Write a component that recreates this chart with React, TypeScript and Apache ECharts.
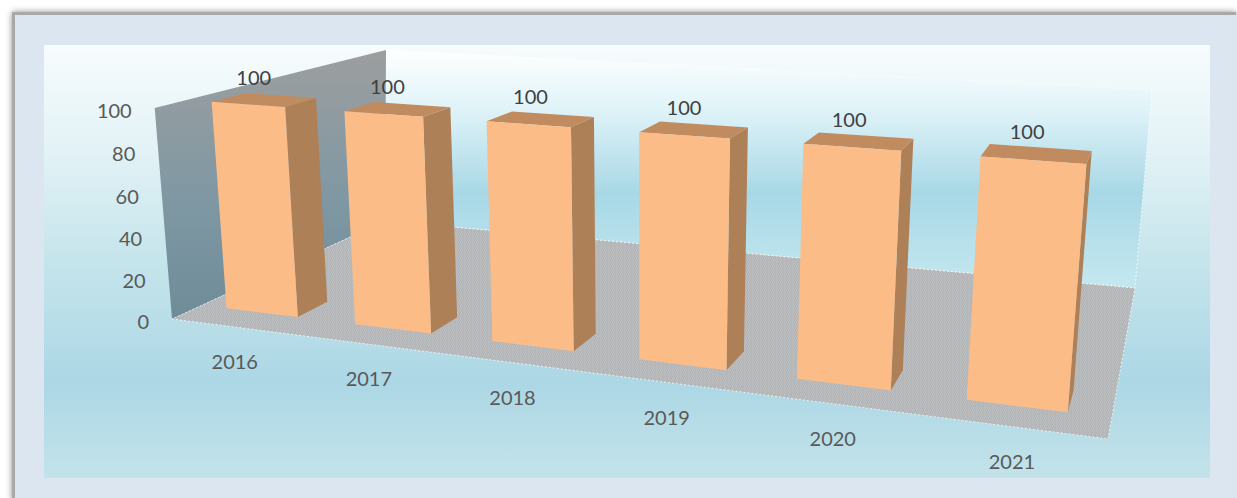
import React, { useEffect, useRef } from "react";
import * as echarts from "echarts";

const categories = ["2016", "2017", "2018", "2019", "2020", "2021"];
const values = [100, 100, 100, 100, 100, 100];
const valueTicks = [0, 20, 40, 60, 80, 100];

type Pt = [number, number];

// Floor outline, ordered front-left, front-right, back-right, back-left.
const FLOOR_OUTLINE: Pt[] = [[172, 319], [1108, 439], [1135, 288], [385, 221]];
// Reference quad of the camera that places the columns on that floor.
const CAMERA_QUAD: Pt[] = [[172, 319], [1108, 439], [1135, 294], [385, 221]];
// Where the vertical edges converge, and the height of the front-left corner on screen.
const VERTICAL_VANISH: Pt = [643, 6063];
const FRONT_LEFT_TOP_Y = 108;
// Upper corners of the back wall.
const WALL_TOP_LEFT: Pt = [386, 50];
const WALL_TOP_RIGHT: Pt = [1152, 90];

// Column extent inside its category band, and its span into the depth.
const BAR_LEFT = 0.3;
const BAR_RIGHT = 0.262;
const BAR_NEAR = 0.115;
const BAR_FAR = 0.245;
const FONT = '20px Lato, "Open Sans", sans-serif';

// Pinhole camera built from the floor homography plus a vertical column.
function makeCamera(q: Pt[]) {
  const [[x0, y0], [x1, y1], [x2, y2], [x3, y3]] = q;
  const dx1 = x1 - x2, dx2 = x3 - x2, sx = x0 - x1 + x2 - x3;
  const dy1 = y1 - y2, dy2 = y3 - y2, sy = y0 - y1 + y2 - y3;
  const den = dx1 * dy2 - dx2 * dy1;
  const g = (sx * dy2 - dx2 * sy) / den;
  const h = (dx1 * sy - sx * dy1) / den;
  const a = x1 - x0 + g * x1, b = x3 - x0 + h * x3;
  const d = y1 - y0 + g * y1, e = y3 - y0 + h * y3;
  const [vx, vy] = VERTICAL_VANISH;
  const m = (y0 - FRONT_LEFT_TOP_Y) / (FRONT_LEFT_TOP_Y - vy);
  // u runs along the categories, v into the depth, t up the value axis.
  return (u: number, v: number, t: number): Pt => {
    const w = g * u + h * v + 1 + m * t;
    return [(a * u + b * v + x0 + m * vx * t) / w, (d * u + e * v + y0 + m * vy * t) / w];
  };
}

const project = makeCamera(CAMERA_QUAD);

function floorTexture(): string {
  const c = document.createElement("canvas");
  c.width = 4;
  c.height = 4;
  const g = c.getContext("2d")!;
  g.fillStyle = "#b9b9ba";
  g.fillRect(0, 0, 4, 4);
  g.fillStyle = "#aeb3b8";
  g.fillRect(0, 0, 1, 1);
  g.fillRect(2, 0, 1, 1);
  g.fillRect(1, 2, 1, 1);
  g.fillRect(3, 2, 1, 1);
  g.fillStyle = "#c4c3c1";
  g.fillRect(1, 0, 1, 1);
  g.fillRect(0, 2, 1, 1);
  return c.toDataURL();
}

function App() {
  const ref = useRef<HTMLDivElement>(null);

  useEffect(() => {
    document.body.style.margin = "0";
    document.body.style.overflow = "hidden";
    const chart = echarts.init(ref.current!, null, { renderer: "svg" });
    const texture = floorTexture();

    const toUnit = (params: any, api: any, cat: number, val: number) => {
      const g = params.coordSys;
      const c = api.coord([cat, val]);
      return { u: (c[0] - g.x) / g.width, t: (g.y + g.height - c[1]) / g.height, band: api.size([1, 0])[0] / g.width };
    };

    const scene = () => {
      const edge = { stroke: "rgba(255,255,255,0.7)", lineWidth: 1, lineDash: [2, 2] };
      const [frontLeft, , backRight, backLeft] = FLOOR_OUTLINE;
      return {
        type: "group",
        children: [
          {
            type: "polygon",
            shape: { points: [backLeft, backRight, WALL_TOP_RIGHT, WALL_TOP_LEFT] },
            style: {
              ...edge,
              fill: new echarts.graphic.LinearGradient(0, 0, 0, 1, [
                { offset: 0, color: "rgba(255,255,255,0.95)" },
                { offset: 0.25, color: "#dff3f8" },
                { offset: 0.6, color: "#a8d8e6" },
                { offset: 1, color: "#c4e8f0" },
              ]),
            },
          },
          {
            type: "polygon",
            shape: { points: [frontLeft, backLeft, WALL_TOP_LEFT, project(0, 0, 1)] },
            style: {
              fill: new echarts.graphic.LinearGradient(0, 0, 0, 1, [
                { offset: 0, color: "#9d9e9f" },
                { offset: 0.55, color: "#7f98a4" },
                { offset: 1, color: "#6e8c98" },
              ]),
            },
          },
          {
            type: "polygon",
            shape: { points: FLOOR_OUTLINE },
            style: { ...edge, fill: { image: texture, repeat: "repeat" } },
          },
        ],
      };
    };

    const bar = (params: any, api: any) => {
      const { u, t, band } = toUnit(params, api, api.value(0), api.value(1));
      const a = u - band * BAR_LEFT;
      const b = u + band * BAR_RIGHT;
      const n = BAR_NEAR;
      const f = BAR_FAR;
      const top = project(u, (n + f) / 2, t);
      return {
        type: "group",
        children: [
          {
            type: "polygon",
            shape: { points: [project(b, n, 0), project(b, f, 0), project(b, f, t), project(b, n, t)] },
            style: { fill: "#ae8058" },
          },
          {
            type: "polygon",
            shape: { points: [project(a, n, t), project(b, n, t), project(b, f, t), project(a, f, t)] },
            style: { fill: "#c18b60" },
          },
          {
            type: "polygon",
            shape: { points: [project(a, n, 0), project(b, n, 0), project(b, n, t), project(a, n, t)] },
            style: { fill: "#fbbc87" },
          },
          {
            type: "text",
            style: {
              text: String(api.value(1)),
              x: top[0] - 13,
              y: top[1] - 23,
              align: "center",
              verticalAlign: "middle",
              font: FONT,
              fill: "#404040",
            },
          },
        ],
      };
    };

    const yearLabel = (params: any, api: any) => {
      const { u } = toUnit(params, api, api.value(0), 0);
      const p = project(u, 0, 0);
      return {
        type: "text",
        style: {
          text: categories[api.value(0)],
          x: p[0] - 1,
          y: p[1] + 34,
          align: "center",
          verticalAlign: "middle",
          font: FONT,
          fill: "#595959",
        },
      };
    };

    const tickLabel = (params: any, api: any) => {
      const { t } = toUnit(params, api, 0, api.value(1));
      const p = project(0, 0, t);
      return {
        type: "text",
        style: {
          text: String(api.value(1)),
          x: p[0] - 23,
          y: p[1] + 2,
          align: "right",
          verticalAlign: "middle",
          font: FONT,
          fill: "#595959",
        },
      };
    };

    chart.setOption({
      animation: false,
      tooltip: { show: false },
      grid: { left: 100, top: 100, width: 600, height: 300 },
      xAxis: { type: "category", data: categories, show: false },
      yAxis: { type: "value", min: 0, max: 100, interval: 20, show: false },
      graphic: [
        { type: "rect", z: -3, shape: { x: 12, y: 12, width: 1224, height: 490 }, style: { fill: "#a9a9a9", shadowBlur: 6, shadowColor: "rgba(0,0,0,0.45)" } },
        { type: "rect", z: -2, shape: { x: 15, y: 15, width: 1222, height: 490 }, style: { fill: "#dce6f1" } },
        {
          type: "rect",
          z: -1,
          shape: { x: 44, y: 45, width: 1166, height: 433 },
          style: {
            fill: new echarts.graphic.LinearGradient(0, 0, 0, 1, [
              { offset: 0, color: "#f7fcfd" },
              { offset: 0.25, color: "#e2f2f6" },
              { offset: 0.47, color: "#c8e6ec" },
              { offset: 0.78, color: "#acd7e5" },
              { offset: 1, color: "#c3e3ea" },
            ]),
          },
        },
      ],
      series: [
        { type: "custom", z: 1, silent: true, data: [[0, 0]], renderItem: scene },
        { type: "custom", z: 2, silent: true, data: values.map((v, i) => [i, v]), renderItem: bar },
        { type: "custom", z: 3, silent: true, data: categories.map((_, i) => [i, 0]), renderItem: yearLabel },
        { type: "custom", z: 3, silent: true, data: valueTicks.map((v) => [0, v]), renderItem: tickLabel },
      ],
    });
    return () => chart.dispose();
  }, []);

  return <div ref={ref} style={{ width: 1237, height: 498 }} />;
}

export default App;
